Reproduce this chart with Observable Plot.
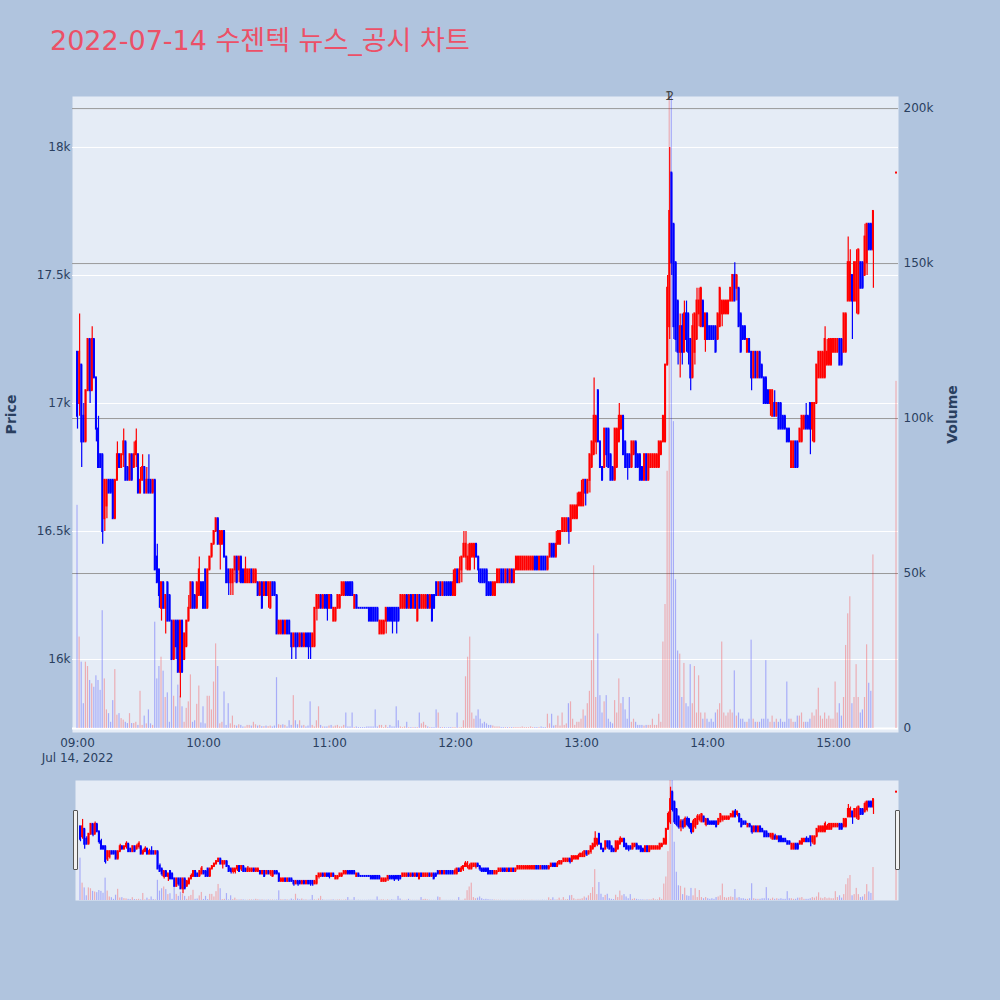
<!DOCTYPE html>
<html><head><meta charset="utf-8">
<script src="https://cdn.jsdelivr.net/npm/d3@7"></script>
<script src="https://cdn.jsdelivr.net/npm/@observablehq/plot@0.6"></script>
<style>
html,body{margin:0;padding:0;background:#B0C4DE;overflow:hidden;}
#wrap{position:relative;width:1000px;height:1000px;background:#B0C4DE;}
#title{position:absolute;left:50px;top:25px;font-size:27px;line-height:32px;color:#EC5067;white-space:nowrap;font-family:"DejaVu Sans","Noto Sans CJK KR",sans-serif;}
.layer{position:absolute;left:0;}
.layer svg{display:block;overflow:visible;}
[aria-label="y-axis label"]{font-weight:bold;font-size:14px;}
.handle{position:absolute;width:3px;height:58px;background:#f2f2f2;border:1px solid #555;border-radius:1px;}
</style></head><body>
<div id="wrap"><div id="title">2022-07-14 수젠텍 뉴스_공시 차트</div></div>
<script>
// ---------- data (1-minute candles from 09:00) ----------
const sessionStart = "2022-07-14T09:00:00Z";
const dateLabel = "Jul 14, 2022";
const open = [
17200,17000,17150,16950,16850,17050,17250,17050,17250,17100,
16900,16800,16800,16550,16600,16700,16700,16700,16550,16700,
16800,16750,16800,16850,16750,16700,16800,16750,16800,16800,
16650,16700,16750,16650,16700,16700,16650,16700,16400,16350,
16200,16300,16200,16300,16250,16150,16000,16150,16150,15950,
16150,16000,16050,16150,16200,16300,16250,16200,16250,16300,
16300,16350,16200,16350,16400,16450,16500,16550,16450,16450,
16500,16400,16350,16300,16300,16350,16400,16350,16400,16350,
16300,16300,16300,16350,16300,16300,16300,16250,16300,16250,
16300,16250,16200,16300,16300,16250,16100,16100,16150,16100,
16150,16150,16100,16050,16100,16100,16050,16100,16050,16100,
16100,16100,16050,16050,16200,16200,16250,16200,16250,16250,
16200,16250,16150,16150,16200,16200,16250,16250,16300,16300,
16300,16300,16200,16250,16200,16200,16200,16200,16200,16200,
16200,16200,16200,16200,16100,16100,16100,16150,16200,16200,
16200,16200,16200,16200,16200,16200,16200,16250,16200,16250,
16200,16250,16150,16250,16200,16200,16200,16250,16200,16250,
16250,16300,16250,16300,16250,16300,16300,16300,16300,16250,
16250,16350,16300,16350,16400,16400,16350,16350,16400,16400,
16450,16400,16350,16350,16350,16350,16300,16300,16250,16250,
16300,16300,16350,16350,16300,16350,16300,16350,16300,16350,
16350,16350,16350,16350,16350,16350,16350,16350,16400,16400,
16350,16400,16400,16400,16350,16400,16450,16450,16400,16450,
16450,16500,16500,16500,16550,16500,16550,16550,16550,16600,
16600,16600,16700,16650,16700,16750,16800,16850,17050,16850,
16750,16750,16900,16900,16800,16750,16700,16750,16850,16900,
16950,16850,16800,16800,16750,16800,16850,16800,16800,16750,
16700,16800,16700,16750,16750,16750,16750,16750,16800,16850,
16850,17150,17300,17900,17700,17550,17400,17200,17300,17200,
17350,17350,17250,17100,17200,17250,17350,17300,17400,17250,
17350,17300,17300,17300,17300,17250,17300,17350,17350,17350,
17350,17400,17400,17500,17450,17450,17350,17300,17300,17200,
17250,17200,17100,17200,17100,17200,17150,17100,17100,17050,
17000,16950,17000,16950,17000,17000,16950,16950,16900,16900,
16750,16750,16850,16850,16850,16850,16900,16950,16950,17000,
16900,16850,17000,17100,17100,17100,17100,17150,17150,17150,
17200,17200,17200,17250,17250,17200,17200,17400,17400,17500,
17400,17400,17350,17550,17550,17500,17550,17700,17700,17600];
const high = [
17200,17350,17150,17000,17050,17250,17250,17300,17250,17100,
16950,16800,16800,16700,16700,16700,16700,16700,16700,16850,
16800,16800,16900,16850,16750,16800,16800,16850,16900,16800,
16750,16800,16750,16750,16800,16700,16700,16700,16450,16350,
16300,16300,16250,16300,16250,16150,16150,16150,16150,16150,
16150,16100,16150,16250,16300,16300,16250,16300,16400,16300,
16300,16350,16350,16400,16450,16500,16550,16550,16500,16500,
16500,16400,16350,16350,16350,16400,16400,16400,16400,16350,
16400,16350,16350,16350,16350,16350,16300,16300,16300,16300,
16300,16300,16300,16300,16300,16250,16150,16150,16150,16150,
16150,16150,16100,16100,16100,16100,16100,16100,16100,16100,
16100,16100,16100,16200,16250,16250,16250,16250,16250,16250,
16250,16250,16200,16200,16250,16250,16300,16300,16300,16300,
16300,16300,16250,16250,16200,16200,16200,16200,16200,16200,
16200,16200,16200,16200,16150,16150,16150,16200,16200,16200,
16200,16200,16200,16200,16250,16250,16250,16250,16250,16250,
16250,16250,16250,16250,16250,16250,16250,16250,16250,16250,
16250,16300,16300,16300,16300,16300,16300,16300,16300,16350,
16350,16350,16400,16400,16500,16500,16450,16450,16450,16450,
16450,16400,16350,16350,16350,16350,16300,16300,16300,16300,
16350,16350,16350,16350,16350,16350,16350,16350,16350,16400,
16400,16400,16400,16400,16400,16400,16400,16400,16400,16400,
16400,16400,16400,16400,16400,16450,16450,16450,16500,16500,
16500,16550,16550,16550,16550,16600,16600,16600,16650,16650,
16700,16700,16700,16700,16800,16850,17100,16950,17050,16850,
16750,16900,16900,16900,16800,16750,16900,16900,17000,16950,
16950,16850,16800,16800,16850,16850,16850,16800,16800,16750,
16800,16800,16800,16800,16800,16800,16800,16850,16850,16950,
17150,17500,18000,17900,17700,17550,17400,17350,17350,17400,
17400,17350,17250,17350,17350,17450,17450,17450,17400,17350,
17350,17300,17300,17300,17300,17350,17450,17400,17400,17400,
17400,17450,17500,17550,17500,17450,17350,17300,17300,17250,
17250,17200,17200,17200,17200,17200,17150,17100,17100,17050,
17050,17050,17050,17000,17000,17000,16950,16950,16900,16900,
16850,16850,16850,16850,16900,16950,16950,17000,16950,17000,
17000,17000,17150,17200,17200,17200,17300,17250,17250,17250,
17250,17250,17250,17250,17250,17350,17350,17650,17600,17500,
17550,17600,17600,17550,17550,17700,17700,17700,17700,17750];
const low = [
16900,16950,16750,16850,16850,17050,17000,17050,17100,16850,
16750,16750,16450,16500,16550,16650,16650,16550,16550,16700,
16750,16750,16750,16700,16700,16700,16700,16750,16750,16650,
16650,16700,16650,16650,16650,16650,16650,16350,16300,16200,
16150,16200,16100,16150,16150,16000,16000,16000,15950,15850,
15950,16000,16050,16150,16200,16200,16200,16200,16250,16250,
16200,16200,16200,16350,16400,16450,16500,16450,16350,16450,
16400,16300,16250,16250,16250,16300,16300,16300,16300,16300,
16300,16300,16300,16300,16300,16300,16250,16250,16200,16250,
16250,16200,16200,16250,16250,16100,16100,16100,16100,16100,
16100,16100,16000,16050,16000,16050,16050,16050,16050,16050,
16000,16000,16050,16050,16150,16200,16200,16200,16200,16150,
16200,16200,16150,16150,16200,16200,16250,16250,16250,16250,
16250,16250,16200,16200,16200,16200,16200,16200,16200,16150,
16150,16150,16150,16150,16100,16100,16100,16100,16150,16150,
16100,16150,16100,16150,16200,16200,16200,16200,16200,16200,
16200,16200,16150,16200,16200,16200,16200,16200,16200,16150,
16200,16250,16250,16250,16250,16250,16250,16250,16250,16250,
16250,16300,16300,16300,16400,16350,16350,16350,16400,16350,
16400,16300,16300,16300,16300,16250,16250,16250,16250,16250,
16300,16300,16300,16300,16300,16300,16300,16300,16300,16350,
16350,16350,16350,16350,16350,16350,16350,16350,16350,16350,
16350,16350,16350,16350,16350,16400,16400,16400,16400,16450,
16450,16500,16500,16500,16450,16500,16550,16550,16550,16600,
16600,16600,16600,16650,16650,16750,16800,16800,16850,16750,
16700,16750,16750,16750,16700,16700,16700,16750,16850,16900,
16800,16750,16700,16750,16750,16800,16750,16750,16700,16700,
16700,16700,16700,16750,16750,16750,16750,16750,16800,16850,
16850,17150,17250,17500,17250,17200,17150,17100,17150,17200,
17200,17150,17050,17100,17150,17250,17300,17300,17300,17200,
17250,17250,17250,17250,17200,17250,17300,17300,17350,17350,
17350,17400,17400,17400,17400,17300,17200,17250,17250,17200,
17200,17050,17100,17100,17100,17100,17100,17000,17000,17000,
16950,16950,16950,16950,16900,16900,16900,16900,16850,16850,
16750,16750,16750,16750,16850,16850,16900,16900,16900,16800,
16850,16850,17000,17100,17100,17100,17100,17150,17150,17150,
17200,17200,17200,17150,17150,17200,17200,17400,17400,17250,
17400,17350,17350,17450,17450,17500,17500,17600,17600,17450];
const close = [
16950,17200,16850,16850,17050,17250,17050,17250,17100,16900,
16750,16750,16500,16700,16700,16650,16650,16550,16700,16800,
16750,16800,16850,16700,16700,16800,16700,16800,16850,16650,
16700,16750,16650,16700,16650,16650,16700,16350,16300,16250,
16300,16200,16250,16150,16150,16000,16150,16050,15950,16150,
15950,16100,16150,16200,16300,16200,16200,16300,16350,16250,
16200,16200,16350,16400,16450,16500,16550,16450,16500,16500,
16400,16300,16300,16350,16350,16400,16300,16400,16300,16300,
16350,16350,16350,16300,16350,16350,16250,16300,16200,16300,
16250,16300,16300,16250,16250,16100,16150,16150,16100,16150,
16100,16100,16050,16100,16050,16050,16100,16050,16100,16050,
16050,16050,16100,16200,16250,16250,16200,16250,16200,16200,
16250,16200,16200,16200,16250,16250,16300,16300,16250,16250,
16250,16250,16250,16200,16200,16200,16200,16200,16200,16150,
16150,16150,16150,16150,16150,16150,16150,16200,16150,16150,
16150,16150,16150,16150,16250,16250,16250,16200,16250,16200,
16250,16200,16250,16200,16250,16250,16250,16200,16250,16150,
16200,16250,16300,16250,16300,16250,16250,16250,16250,16300,
16350,16300,16350,16400,16450,16450,16400,16450,16450,16450,
16400,16350,16300,16300,16300,16250,16250,16250,16300,16300,
16350,16350,16300,16300,16350,16300,16350,16300,16350,16400,
16400,16400,16400,16400,16400,16400,16400,16400,16350,16350,
16400,16350,16350,16350,16400,16450,16400,16400,16450,16500,
16500,16550,16550,16550,16500,16600,16600,16600,16600,16650,
16650,16700,16650,16700,16800,16850,16950,16950,16850,16750,
16700,16900,16800,16750,16700,16700,16900,16900,16950,16950,
16800,16750,16750,16750,16850,16850,16750,16750,16700,16700,
16800,16700,16800,16800,16800,16800,16800,16850,16850,16950,
17150,17450,17750,17550,17300,17250,17200,17300,17200,17350,
17250,17200,17100,17300,17350,17400,17400,17450,17300,17350,
17250,17250,17250,17250,17200,17350,17450,17400,17400,17400,
17400,17450,17500,17400,17500,17300,17200,17250,17250,17250,
17200,17100,17200,17100,17200,17100,17100,17000,17000,17000,
17050,17050,16950,17000,16900,16900,16900,16900,16850,16850,
16850,16850,16750,16750,16900,16950,16950,16900,16900,16900,
17000,17000,17150,17200,17200,17200,17250,17200,17250,17250,
17250,17250,17250,17150,17150,17350,17350,17550,17550,17400,
17550,17550,17600,17450,17450,17650,17700,17600,17600,17750];
const volume = [
72000,29500,21400,8000,21400,20000,15500,14400,13300,17000,
15500,12300,38000,16000,6000,4800,2000,9000,19000,4300,
4800,3200,2700,2000,1600,4800,1600,1600,2000,1000,
12000,1000,4000,1500,6000,1500,1000,34300,16000,20000,
23000,18500,10000,11500,2000,22500,10400,7000,14000,10400,
7000,2000,6500,8600,17300,2000,2500,7800,13700,1800,
7000,1500,10400,10400,6000,15000,27300,20000,1500,2000,
11800,1000,8000,1500,4000,1000,800,1200,1000,500,
500,1000,1000,800,2000,1200,800,1000,600,600,
800,600,800,500,800,16400,1200,1000,1200,1000,
500,2500,1000,10600,2500,1200,2500,800,1000,500,
800,8600,1000,500,2500,7000,1000,500,500,500,
800,1000,500,800,1000,500,500,1000,5000,500,
500,5000,300,500,300,300,300,300,500,500,
500,500,6000,500,1000,1000,300,1000,300,1000,
500,500,7000,2500,500,300,500,2000,300,300,
300,300,300,5000,1500,2000,1000,500,300,300,
300,6000,5000,300,300,300,200,300,300,300,
300,5000,200,300,2500,16700,23000,29500,5000,3000,
4000,6000,3000,1500,2000,1500,1000,1000,800,500,
500,500,300,300,300,300,300,300,300,300,
300,300,500,300,300,300,500,300,300,300,
300,500,300,300,4600,1500,4600,800,1000,4000,
800,5000,1000,1500,8000,8600,3000,1000,2000,2000,
3000,6000,4000,8000,12000,21900,52500,10000,30500,10600,
5000,8600,10600,3000,2000,1500,9000,5000,16000,8000,
10000,6000,3000,10000,2000,3000,2000,1000,1000,1000,
800,1000,1000,1000,3000,1000,1000,4600,2000,27900,
40000,83000,330000,300000,99000,48000,25000,24000,10000,21000,
8000,7000,20600,8000,20000,5000,17000,5000,3000,5000,
3000,2000,3000,2000,5000,6000,8000,27900,5000,4000,
5000,6000,5000,18600,4000,5000,3000,3000,2000,2000,
3000,28500,3000,2000,2000,2000,3000,3000,21900,3000,
2000,4000,2000,3000,2000,3000,2000,2000,15000,3000,
3000,2000,2000,4000,4000,5000,2000,2000,2000,3000,
5000,4000,6000,13000,4000,3000,5000,3000,4000,3000,
3000,15000,5000,8000,4000,10000,26800,37000,42500,8000,
10000,20600,10000,5000,6000,10000,27000,14600,12000,56000];
// closing single-price auction
const closeAuctionTime = "2022-07-14T15:30:00Z";
const closeAuctionPrice = 17900;
const closeAuctionVolume = 112000;
// news markers
const newsTimes = ["2022-07-14T13:41:25Z", "2022-07-14T13:42:20Z"];
const newsLabels = ["1", "2"];
// axes
const priceTicks = [16000, 16500, 17000, 17500, 18000];
const volumeTicks = [0, 50000, 100000, 150000, 200000];
const hourTicks = ["09:00","10:00","11:00","12:00","13:00","14:00","15:00"];
const xRange = ["2022-07-14T08:57:37Z", "2022-07-14T15:30:57Z"];
const priceRange = [15715, 18199];
const volumeRange = [-1290, 203900];
const sliderPriceRange = [15715, 18135];
const sliderVolumeRange = [0, 203900];

// ---------- build rows ----------
const RED = "#FF0000", BLUE = "#0000FF";
const t0 = Date.parse(sessionStart);
const rows = open.map((o, i) => ({t: new Date(t0 + i * 60000), open: o, high: high[i], low: low[i], close: close[i], volume: volume[i]}));
rows.push({t: new Date(Date.parse(closeAuctionTime)), open: closeAuctionPrice, high: closeAuctionPrice, low: closeAuctionPrice, close: closeAuctionPrice, volume: closeAuctionVolume});
let prevDir = BLUE, prevClose = null;
for (const r of rows) {
  let d;
  if (r.close > r.open) d = RED;
  else if (r.close < r.open) d = BLUE;
  else if (prevClose != null && r.close > prevClose) d = RED;
  else if (prevClose != null && r.close < prevClose) d = BLUE;
  else d = prevDir;
  r.color = d; prevDir = d; prevClose = r.close;
}
const half = 28000, barHalf = 17000;
const xDomain = xRange.map(s => new Date(Date.parse(s)));
const hourDates = hourTicks.map(h => new Date(Date.parse("2022-07-14T" + h + ":00Z")));
const newsDates = newsTimes.map(s => new Date(Date.parse(s)));
const fmt = d3.utcFormat("%H:%M");
const baseStyle = {background: "transparent", fontFamily: "DejaVu Sans, sans-serif", fontSize: "12px", color: "#2a3f5f", overflow: "visible"};
const W = 1000, H = 760, mT = 96, mB = 28, mL = 72, mR = 102;
const wrap = document.getElementById("wrap");
function addLayer(svg, top) {
  const d = document.createElement("div");
  d.className = "layer"; d.style.top = top + "px";
  d.appendChild(svg); wrap.appendChild(d);
}

// Layer A: background, price grid, axes
addLayer(Plot.plot({
  width: W, height: H, marginTop: mT, marginBottom: mB, marginLeft: mL, marginRight: mR,
  style: baseStyle,
  x: {type: "utc", domain: xDomain},
  y: {domain: priceRange},
  marks: [
    Plot.frame({fill: "#E5ECF6", stroke: null}),
    Plot.gridY(priceTicks, {stroke: "white", strokeOpacity: 1, strokeWidth: 1}),
    Plot.axisY(priceTicks, {anchor: "left", tickSize: 0, tickPadding: 2, tickFormat: d => (d / 1000) + "k", label: "Price", labelArrow: "none", labelAnchor: "center", labelOffset: 66}),
    Plot.axisX(hourDates, {anchor: "bottom", tickSize: 0, tickPadding: 3, lineHeight: 1.3, tickFormat: (d, i) => i === 0 ? fmt(d) + "\n" + dateLabel : fmt(d), label: null})
  ]
}), 0);

// Layer B: volume grid + bars + right axis
addLayer(Plot.plot({
  width: W, height: H, marginTop: mT, marginBottom: mB, marginLeft: mL, marginRight: mR,
  style: baseStyle,
  x: {type: "utc", domain: xDomain, axis: null},
  y: {domain: volumeRange},
  color: {type: "identity"},
  marks: [
    Plot.gridY(volumeTicks.filter(v => v > 0), {stroke: "#999", strokeOpacity: 1, strokeWidth: 1}),
    Plot.ruleY([0], {stroke: "white", strokeWidth: 2}),
    Plot.rect(rows, {x1: d => new Date(+d.t - barHalf), x2: d => new Date(+d.t + barHalf), y1: 0, y2: "volume", fill: "color", fillOpacity: 0.27, clip: true}),
    Plot.axisY(volumeTicks, {anchor: "right", tickSize: 0, tickPadding: 5, tickFormat: d => d === 0 ? "0" : (d / 1000) + "k", label: "Volume", labelArrow: "none", labelAnchor: "center", labelOffset: 58})
  ]
}), 0);

// Layer C: candles + news labels
addLayer(Plot.plot({
  width: W, height: H, marginTop: mT, marginBottom: mB, marginLeft: mL, marginRight: mR,
  style: baseStyle,
  x: {type: "utc", domain: xDomain, axis: null},
  y: {domain: priceRange, axis: null},
  color: {type: "identity"},
  marks: [
    Plot.ruleX(rows, {x: "t", y1: "low", y2: "high", stroke: "color", strokeWidth: 1.2}),
    Plot.rect(rows, {x1: d => new Date(+d.t - half), x2: d => new Date(+d.t + half), y1: d => Math.min(d.open, d.close), y2: d => Math.max(d.open, d.close), fill: "color", insetTop: -1, insetBottom: -1}),
    Plot.text(newsDates, {x: d => d, text: (d, i) => newsLabels[i], frameAnchor: "top", lineAnchor: "middle", fill: "#444", fontSize: 12})
  ]
}), 0);

// Range slider
const sW = 1000, sH = 120, sL = 75, sR = 102;
addLayer(Plot.plot({
  width: sW, height: sH, marginTop: 0, marginBottom: 0, marginLeft: sL, marginRight: sR,
  style: baseStyle,
  x: {type: "utc", domain: xDomain, axis: null},
  y: {domain: sliderVolumeRange, axis: null},
  color: {type: "identity"},
  marks: [
    Plot.frame({fill: "#E5ECF6", stroke: null}),
    Plot.rect(rows, {x1: d => new Date(+d.t - barHalf), x2: d => new Date(+d.t + barHalf), y1: 0, y2: "volume", fill: "color", fillOpacity: 0.27, clip: true})
  ]
}), 780);
addLayer(Plot.plot({
  width: sW, height: sH, marginTop: 0, marginBottom: 0, marginLeft: sL, marginRight: sR,
  style: baseStyle,
  x: {type: "utc", domain: xDomain, axis: null},
  y: {domain: sliderPriceRange, axis: null},
  color: {type: "identity"},
  marks: [
    Plot.ruleX(rows, {x: "t", y1: "low", y2: "high", stroke: "color", strokeWidth: 1.2}),
    Plot.rect(rows, {x1: d => new Date(+d.t - half), x2: d => new Date(+d.t + half), y1: d => Math.min(d.open, d.close), y2: d => Math.max(d.open, d.close), fill: "color", insetTop: -1, insetBottom: -1})
  ]
}), 780);
// slider grab handles
for (const left of [73, 895]) {
  const h = document.createElement("div");
  h.className = "handle"; h.style.left = left + "px"; h.style.top = "810px";
  wrap.appendChild(h);
}
</script>
</body></html>
